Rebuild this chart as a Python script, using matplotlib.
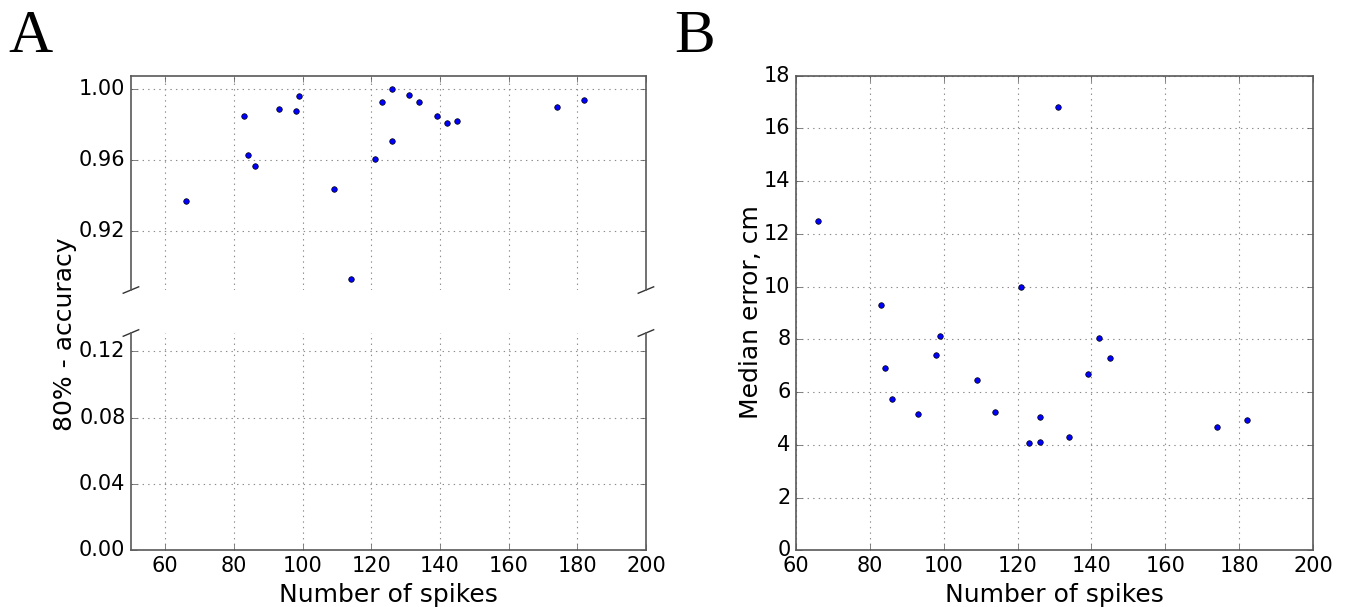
import matplotlib
matplotlib.use("Agg")
import matplotlib.pyplot as plt

# number of spikes per cell (same cells in both panels)
spikes_a = [66, 83, 84, 86, 93, 98, 99, 109, 114, 121, 123, 126, 126, 131, 134, 139, 142, 145, 174, 182]
accuracy = [0.937, 0.985, 0.963, 0.957, 0.989, 0.988, 0.996, 0.944, 0.893, 0.961,
            0.993, 1.000, 0.971, 0.997, 0.993, 0.985, 0.981, 0.982, 0.990, 0.994]

spikes_b = [66, 83, 84, 86, 93, 98, 99, 109, 114, 121, 123, 126, 126, 131, 134, 139, 142, 145, 174, 182]
median_err = [12.48, 9.29, 6.92, 5.74, 5.17, 7.41, 8.14, 6.46, 5.24, 10.0,
              4.07, 5.05, 4.11, 16.81, 4.30, 6.69, 8.06, 7.30, 4.67, 4.96]

top_ticks = [0.92, 0.96, 1.00]
bottom_ticks = [0.00, 0.04, 0.08, 0.12]
xticks = [60, 80, 100, 120, 140, 160, 180, 200]

plt.style.use("classic")
plt.rcParams["font.family"] = ["DejaVu Sans"]

fig = plt.figure(figsize=(13.46, 6.07), dpi=100, facecolor="white")

ax_top = fig.add_axes([0.0973, 0.5222, 0.3826, 0.3526])
ax_bot = fig.add_axes([0.0973, 0.0931, 0.3826, 0.3583])
ax_b = fig.add_axes([0.5914, 0.0931, 0.3841, 0.7822])

def style(ax):
    ax.set_facecolor("white")
    ax.grid(True, linestyle=":", color="0.55", linewidth=0.8)
    ax.set_axisbelow(True)
    ax.tick_params(labelsize=15, direction="in", length=4, color="0.3")
    for s in ax.spines.values():
        s.set_color("0.35")
        s.set_linewidth(1.2)

for ax in (ax_top, ax_bot):
    ax.scatter(spikes_a, accuracy, s=16, c="#0000ff", edgecolors="k", linewidths=0.5, zorder=3)
    ax.set_xlim(50, 200)
    ax.set_xticks(xticks)
    style(ax)

ax_top.set_ylim(0.887, 1.0075)
ax_top.set_yticks(top_ticks)
ax_top.set_yticklabels(["%.2f" % t for t in top_ticks])
ax_bot.set_ylim(0, 0.131)
ax_bot.set_yticks(bottom_ticks)
ax_bot.set_yticklabels(["%.2f" % t for t in bottom_ticks])

ax_top.spines["bottom"].set_visible(False)
ax_bot.spines["top"].set_visible(False)
ax_top.tick_params(labelbottom=False, bottom=False)
ax_bot.tick_params(top=False)
ax_bot.set_xlabel("Number of spikes", fontsize=18)

# break marks
d = 0.015
kw = dict(transform=ax_top.transAxes, color="0.2", clip_on=False, linewidth=1)
ax_top.plot((-d, +d), (-d, +d), **kw)
ax_top.plot((1 - d, 1 + d), (-d, +d), **kw)
kw.update(transform=ax_bot.transAxes)
ax_bot.plot((-d, +d), (1 - d, 1 + d), **kw)
ax_bot.plot((1 - d, 1 + d), (1 - d, 1 + d), **kw)

fig.text(65 / 1346, 1 - 334 / 607, "80% - accuracy", rotation=90, fontsize=18,
         ha="center", va="center")

ax_b.scatter(spikes_b, median_err, s=16, c="#0000ff", edgecolors="k", linewidths=0.5, zorder=3)
ax_b.set_xlim(60, 200)
ax_b.set_ylim(0, 18)
ax_b.set_xticks([60, 80, 100, 120, 140, 160, 180, 200])
ax_b.set_yticks(range(0, 19, 2))
style(ax_b)
ax_b.set_xlabel("Number of spikes", fontsize=18)
fig.text(751 / 1346, 1 - 312 / 607, "Median error, cm", rotation=90, fontsize=18,
         ha="center", va="center")

fig.text(0.006, 1 - 52 / 607, "A", fontsize=44, family="Liberation Serif", va="baseline")
fig.text(0.501, 1 - 52 / 607, "B", fontsize=44, family="Liberation Serif", va="baseline")

fig.savefig("out.png", dpi=100, facecolor="white")
